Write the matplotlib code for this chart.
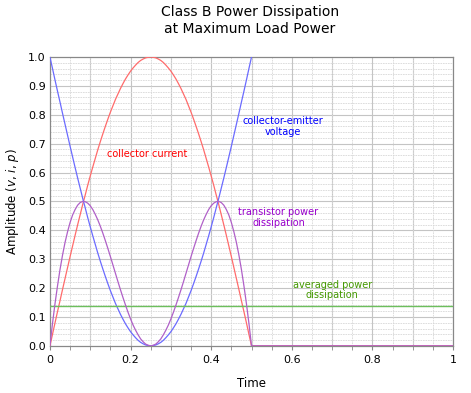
import numpy as np
import matplotlib
matplotlib.use("Agg")
import matplotlib.pyplot as plt
from matplotlib.ticker import MultipleLocator

# Werte, Zeitachse 0..0.5 in 80 Schritten
t_half = np.linspace(0, 0.5, 81)

current = [0.000, 0.039, 0.079, 0.118, 0.156, 0.195, 0.233, 0.271, 0.309, 0.346,
           0.383, 0.419, 0.454, 0.489, 0.522, 0.556, 0.588, 0.619, 0.649, 0.679,
           0.707, 0.734, 0.760, 0.785, 0.809, 0.831, 0.853, 0.872, 0.891, 0.908,
           0.924, 0.938, 0.951, 0.962, 0.972, 0.981, 0.988, 0.993, 0.997, 0.999,
           1.000,
           0.999, 0.997, 0.993, 0.988, 0.981, 0.972, 0.962, 0.951, 0.938, 0.924,
           0.908, 0.891, 0.872, 0.853, 0.831, 0.809, 0.785, 0.760, 0.734, 0.707,
           0.679, 0.649, 0.619, 0.588, 0.556, 0.522, 0.489, 0.454, 0.419, 0.383,
           0.346, 0.309, 0.271, 0.233, 0.195, 0.156, 0.118, 0.079, 0.039, 0.000]

voltage = [1.000, 0.961, 0.921, 0.882, 0.844, 0.805, 0.767, 0.729, 0.691, 0.654,
           0.617, 0.581, 0.546, 0.511, 0.478, 0.444, 0.412, 0.381, 0.351, 0.321,
           0.293, 0.266, 0.240, 0.215, 0.191, 0.169, 0.147, 0.128, 0.109, 0.092,
           0.076, 0.062, 0.049, 0.038, 0.028, 0.019, 0.012, 0.007, 0.003, 0.001,
           0.000,
           0.001, 0.003, 0.007, 0.012, 0.019, 0.028, 0.038, 0.049, 0.062, 0.076,
           0.092, 0.109, 0.128, 0.147, 0.169, 0.191, 0.215, 0.240, 0.266, 0.293,
           0.321, 0.351, 0.381, 0.412, 0.444, 0.478, 0.511, 0.546, 0.581, 0.617,
           0.654, 0.691, 0.729, 0.767, 0.805, 0.844, 0.882, 0.921, 0.961, 1.000]

power = [0.000, 0.076, 0.145, 0.207, 0.264, 0.314, 0.358, 0.395, 0.427, 0.453,
         0.472, 0.487, 0.496, 0.500, 0.499, 0.494, 0.485, 0.472, 0.455, 0.436,
         0.414, 0.390, 0.364, 0.337, 0.309, 0.280, 0.251, 0.222, 0.194, 0.167,
         0.141, 0.116, 0.093, 0.072, 0.054, 0.038, 0.024, 0.014, 0.006, 0.002,
         0.000,
         0.002, 0.006, 0.014, 0.024, 0.038, 0.054, 0.072, 0.093, 0.116, 0.141,
         0.167, 0.194, 0.222, 0.251, 0.280, 0.309, 0.337, 0.364, 0.390, 0.414,
         0.436, 0.455, 0.472, 0.485, 0.494, 0.499, 0.500, 0.496, 0.487, 0.472,
         0.453, 0.427, 0.395, 0.358, 0.314, 0.264, 0.207, 0.145, 0.076, 0.000]

t_off = [0.5, 1.0]
off_values = [0.0, 0.0]
t_volt_extra = [0.50625]
volt_extra = [1.04]
avg_power = 0.137

x_ticks = [0, 0.2, 0.4, 0.6, 0.8, 1]
x_labels = ["0", "0.2", "0.4", "0.6", "0.8", "1"]
y_ticks = [0.0, 0.1, 0.2, 0.3, 0.4, 0.5, 0.6, 0.7, 0.8, 0.9, 1.0]

c_red = "#ff6b6b"
c_blue = "#6b6bff"
c_purple = "#b060c8"
c_green = "#6cbf5c"

fig = plt.figure(figsize=(4.71, 3.93), dpi=100)
ax = fig.add_axes([0.106, 0.120, 0.856, 0.735])

# Gitter
ax.xaxis.set_minor_locator(MultipleLocator(0.05))
ax.yaxis.set_minor_locator(MultipleLocator(0.02))
ax.set_xticks(x_ticks)
ax.set_xticklabels(x_labels)
ax.set_yticks(y_ticks)
ax.set_yticklabels([f"{v:.1f}" for v in y_ticks])
ax.grid(False)
for xv in np.arange(0.1, 1.0, 0.1):
    ax.axvline(xv, color="#c4c4c4", lw=0.8, zorder=0)
for yv in np.arange(0.1, 1.0, 0.1):
    ax.axhline(yv, color="#c4c4c4", lw=0.8, zorder=0)
ax.grid(which="minor", color="#d8d8d8", lw=0.6, ls=(0, (2, 1)), zorder=0)

# Kurven
ax.plot(list(t_half) + t_off, current + off_values, color=c_red, lw=0.9, zorder=3)
ax.plot(list(t_half) + t_volt_extra, voltage + volt_extra, color=c_blue, lw=0.9, zorder=3)
ax.plot(list(t_half) + t_off, power + off_values, color=c_purple, lw=0.9, zorder=4)
ax.axhline(avg_power, color=c_green, lw=1.0, zorder=3)

ax.set_xlim(0, 1)
ax.set_ylim(0, 1)

# Beschriftungen
ax.text(0.24, 0.665, "collector current", color="#ff0000", fontsize=7,
        ha="center", va="center")
ax.text(0.578, 0.76, "collector-emitter\nvoltage", color="#0000ff", fontsize=7,
        ha="center", va="center", linespacing=1.1)
ax.text(0.567, 0.445, "transistor power\ndissipation", color="#9900cc", fontsize=7,
        ha="center", va="center", linespacing=1.1)
ax.text(0.70, 0.193, "averaged power\ndissipation", color="#449900", fontsize=7,
        ha="center", va="center", linespacing=1.1)

fig.text(0.53, 0.948, "Class B Power Dissipation\nat Maximum Load Power",
         ha="center", va="center", fontsize=10, linespacing=1.2)
ax.set_xlabel("Time", fontsize=8.5, labelpad=9)
ax.set_ylabel("Amplitude ($v$, $i$, $p$)", fontsize=8.5, labelpad=5)

ax.tick_params(axis="both", which="major", labelsize=8, length=3, color="#888888")
ax.tick_params(axis="x", which="minor", length=3, color="#888888")
ax.tick_params(axis="y", which="minor", length=0)
ax.tick_params(axis="y", which="major", length=0, pad=3)
for s in ax.spines.values():
    s.set_color("#888888")
    s.set_linewidth(0.9)

fig.savefig("out.png", dpi=100)
